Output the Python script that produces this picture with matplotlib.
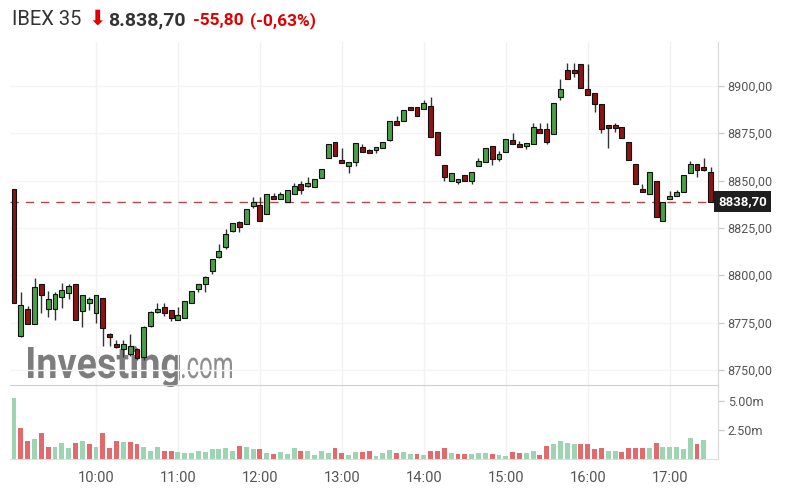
import matplotlib
matplotlib.use('Agg')
import matplotlib.pyplot as plt
import numpy as np
from matplotlib.font_manager import FontProperties
from matplotlib.patches import PathPatch
from matplotlib.textpath import TextPath
from matplotlib.transforms import Affine2D, IdentityTransform

plt.rcParams['font.family'] = ['Roboto', 'DejaVu Sans']

# 5-minute candles, 09:00 .. 17:30
opens = [8845.5, 8767.9, 8782.2, 8774.3, 8795.4, 8782.2, 8782.2, 8788.5, 8790.6, 8795.4,
         8781.1, 8785.4, 8780.1, 8788.0, 8769.0, 8763.7, 8761.1, 8758.4, 8761.1, 8756.8,
         8773.2, 8780.6, 8783.3, 8781.7, 8776.4, 8777.4, 8785.4, 8792.8, 8795.4, 8802.3,
         8809.7, 8815.0, 8823.4, 8828.2, 8827.1, 8836.6, 8837.1, 8832.4, 8841.9, 8840.3,
         8838.7, 8843.0, 8848.2, 8847.2, 8846.6, 8851.4, 8862.0, 8870.4, 8860.9, 8857.7,
         8859.9, 8867.8, 8866.2, 8866.2, 8867.2, 8871.5, 8881.5, 8881.5, 8888.0, 8888.9,
         8887.8, 8889.4, 8875.7, 8858.3, 8849.8, 8849.3, 8853.0, 8849.8, 8857.7, 8859.9,
         8868.3, 8861.4, 8865.1, 8871.5, 8869.4, 8868.3, 8869.4, 8877.3, 8877.3, 8874.6,
         8894.2, 8908.5, 8908.5, 8911.6, 8898.4, 8896.3, 8890.5, 8879.4, 8879.4, 8878.3,
         8870.4, 8858.8, 8845.6, 8843.0, 8849.8, 8828.7, 8840.3, 8841.9, 8844.0, 8854.0,
         8858.8, 8856.8, 8854.6]
highs = [8845.5, 8791.2, 8783.8, 8798.6, 8795.4, 8791.7, 8791.2, 8795.9, 8795.4, 8795.4,
         8789.6, 8788.5, 8789.6, 8788.0, 8769.5, 8765.8, 8765.8, 8769.0, 8761.6, 8773.2,
         8781.1, 8785.4, 8785.4, 8781.7, 8783.4, 8786.4, 8791.7, 8795.4, 8799.6, 8808.6,
         8816.5, 8824.5, 8827.6, 8828.7, 8835.0, 8841.4, 8841.4, 8843.0, 8843.5, 8844.0,
         8845.1, 8848.8, 8849.8, 8851.9, 8850.9, 8856.2, 8869.4, 8870.4, 8867.2, 8859.9,
         8869.9, 8869.4, 8866.7, 8867.8, 8870.4, 8881.5, 8884.2, 8887.3, 8889.0, 8888.9,
         8892.6, 8894.2, 8875.7, 8858.3, 8854.0, 8850.9, 8853.0, 8854.6, 8862.0, 8867.2,
         8868.3, 8865.7, 8872.0, 8875.2, 8871.0, 8869.4, 8880.5, 8880.5, 8880.5, 8891.0,
         8903.7, 8912.2, 8912.2, 8911.6, 8911.6, 8896.3, 8890.5, 8879.4, 8880.5, 8878.3,
         8870.4, 8858.8, 8848.2, 8854.6, 8849.8, 8838.7, 8844.5, 8845.1, 8853.0, 8860.4,
         8858.8, 8862.0, 8857.2]
lows = [8785.4, 8767.4, 8774.3, 8774.3, 8780.1, 8778.0, 8776.4, 8782.7, 8787.5, 8776.4,
        8772.7, 8781.7, 8774.8, 8762.7, 8762.7, 8761.6, 8756.8, 8757.4, 8755.3, 8755.3,
        8772.7, 8780.1, 8778.5, 8775.9, 8776.4, 8777.4, 8785.4, 8791.2, 8791.2, 8800.7,
        8809.2, 8813.9, 8822.9, 8822.9, 8827.1, 8835.6, 8828.7, 8832.4, 8840.3, 8840.3,
        8838.7, 8843.0, 8843.0, 8846.6, 8846.6, 8851.4, 8862.0, 8863.0, 8859.3, 8854.0,
        8857.7, 8865.1, 8864.6, 8864.6, 8867.2, 8870.9, 8879.4, 8881.5, 8887.3, 8884.2,
        8887.8, 8873.1, 8863.6, 8849.8, 8849.8, 8848.2, 8849.8, 8848.2, 8857.7, 8859.9,
        8858.3, 8860.4, 8865.1, 8869.4, 8867.8, 8866.7, 8869.4, 8875.2, 8869.4, 8874.6,
        8892.6, 8903.7, 8904.8, 8898.9, 8895.2, 8886.3, 8875.2, 8867.2, 8875.7, 8872.5,
        8860.9, 8848.2, 8844.0, 8843.0, 8830.8, 8828.7, 8840.3, 8841.9, 8844.0, 8854.0,
        8851.9, 8855.0, 8838.7]
closes = [8785.4, 8784.3, 8774.3, 8793.8, 8789.6, 8787.5, 8790.1, 8792.2, 8794.3, 8776.4,
          8789.6, 8787.5, 8789.6, 8772.2, 8767.4, 8762.1, 8763.7, 8762.7, 8756.3, 8772.7,
          8780.6, 8782.2, 8780.1, 8777.4, 8779.0, 8786.4, 8791.7, 8795.4, 8799.1, 8808.6,
          8812.8, 8821.8, 8827.6, 8825.5, 8835.0, 8838.7, 8828.7, 8843.0, 8840.3, 8843.0,
          8845.1, 8847.2, 8845.1, 8848.8, 8850.9, 8856.2, 8869.4, 8863.0, 8859.3, 8859.9,
          8869.9, 8865.1, 8864.6, 8867.8, 8870.4, 8881.5, 8879.4, 8887.3, 8887.3, 8884.2,
          8891.0, 8873.1, 8863.6, 8851.9, 8854.0, 8850.9, 8849.8, 8854.6, 8860.4, 8867.2,
          8861.4, 8864.1, 8872.0, 8869.4, 8867.8, 8869.4, 8878.3, 8875.2, 8870.4, 8891.0,
          8898.4, 8903.7, 8906.9, 8898.9, 8895.2, 8890.5, 8877.3, 8877.8, 8877.8, 8872.5,
          8860.9, 8848.2, 8844.0, 8854.6, 8830.8, 8838.7, 8841.9, 8844.0, 8853.0, 8858.8,
          8855.6, 8855.6, 8838.7]
# volume in millions
volumes = [5.23, 2.62, 1.52, 1.67, 2.19, 1.00, 1.00, 1.32, 0.91, 1.32,
           1.55, 1.23, 1.00, 2.19, 0.88, 1.55, 1.43, 1.43, 1.23, 1.00,
           0.68, 1.00, 0.68, 0.68, 0.57, 0.45, 0.45, 0.65, 0.57, 0.80,
           0.80, 0.88, 0.68, 1.12, 1.00, 0.80, 0.80, 0.45, 0.36, 0.57,
           0.36, 0.88, 0.68, 0.68, 0.33, 0.68, 0.45, 0.88, 0.45, 0.30,
           0.57, 0.57, 0.68, 0.22, 0.45, 0.78, 0.45, 0.54, 0.42, 0.39,
           0.33, 0.68, 0.68, 0.88, 0.45, 0.39, 0.39, 0.39, 0.45, 0.45,
           0.39, 0.33, 0.22, 0.57, 0.45, 0.45, 0.65, 0.33, 1.06, 1.26,
           1.55, 1.35, 1.26, 1.26, 1.26, 0.80, 0.88, 0.68, 0.68, 0.59,
           0.88, 0.88, 0.88, 0.88, 1.35, 1.03, 1.00, 1.00, 0.80, 1.76,
           1.26, 1.64, 0.00]
hour_labels = ['10:00', '11:00', '12:00', '13:00', '14:00', '15:00', '16:00', '17:00']
price_ticks = [8750, 8775, 8800, 8825, 8850, 8875, 8900]
vol_ticks = [2.5, 5.0]
last_price = 8838.70

o = np.array(opens)
h = np.array(highs)
l = np.array(lows)
c = np.array(closes)
idx = np.arange(len(o))
hour_pos = [12 * (i + 1) for i in range(len(hour_labels))]

W, H = 790, 501
fig = plt.figure(figsize=(W / 100, H / 100), dpi=100)
ax = fig.add_axes([10 / W, 1 - 385 / H, 708 / W, 343 / H])
vax = fig.add_axes([10 / W, 1 - 458.5 / H, 708 / W, 73.5 / H], sharex=ax)


def watermark(text, weight, x0, x1, base, height, color):
    # squeeze the glyphs into a box, the logo font is narrower than Roboto
    path = TextPath((0, 0), text, size=1,
                    prop=FontProperties(family='Roboto', weight=weight))
    ext = path.get_extents()
    cap = TextPath((0, 0), 'I', size=1,
                   prop=FontProperties(family='Roboto', weight=weight)).get_extents().y1
    sx = (x1 - x0) / ext.width
    sy = height / cap
    tr = Affine2D().translate(-ext.x0, 0).scale(sx, sy).translate(x0, H - base)
    fig.patches.append(PathPatch(tr.transform_path(path), transform=IdentityTransform(),
                                 fc=color, ec='none', zorder=0))


watermark('Investing', 'bold', 28, 180, 378, 31, '#7d7d7d')
watermark('.com', 'normal', 182, 232, 378, 27, '#8e8e8e')

up = c >= o
green, red = '#4a9e48', '#8c1414'
ax.vlines(idx, l, h, color='#333333', lw=1, zorder=2)
ax.bar(idx, np.maximum(np.abs(c - o), 1.6), bottom=np.minimum(o, c), width=0.72,
       color=np.where(up, green, red), edgecolor='#111111', linewidth=0.8, zorder=3)

ax.axhline(last_price, color='#b04848', lw=1, ls=(0, (6, 5)), zorder=1)
ax.text(1.0, last_price, f'{last_price:.2f}'.replace('.', ','),
        transform=ax.get_yaxis_transform(), ha='left', va='center',
        color='white', fontsize=9.5, fontweight='bold', clip_on=False,
        bbox=dict(boxstyle='square,pad=0.3', fc='#1e1e1e', ec='none'))

ax.set_xlim(-0.59, 103.07)
ax.set_ylim(8742.0, 8923.2)
ax.yaxis.tick_right()
ax.set_yticks(price_ticks)
ax.set_yticklabels([f'{v:.2f}'.replace('.', ',') for v in price_ticks])
ax.tick_params(axis='y', length=4, width=1, color='#cccccc', pad=3,
               labelsize=9, labelcolor='#555555')
ax.tick_params(axis='x', bottom=False, labelbottom=False)
for s in ['left', 'top']:
    ax.spines[s].set_visible(False)
ax.spines['right'].set_color('#d9d9d9')
ax.spines['bottom'].set_color('#cfcfcf')
for v in price_ticks:
    ax.axhline(v, color='#f4f4f4', lw=1, zorder=0)
for p in hour_pos:
    ax.axvline(p, color='#f2f2f2', lw=1, zorder=0)
ax.set_zorder(2)
ax.patch.set_alpha(0)

# volume, coloured by close against the previous close
prev = np.concatenate([[-np.inf], c[:-1]])
vol_up = c >= prev
vax.bar(idx, volumes, width=0.72, color=np.where(vol_up, '#9fd4b2', '#e16a6c'),
        linewidth=0, zorder=2)
vax.set_ylim(0, 6.39)
vax.yaxis.tick_right()
vax.set_yticks(vol_ticks)
vax.set_yticklabels([f'{v:.2f}m' for v in vol_ticks])
vax.tick_params(axis='y', length=4, width=1, color='#cccccc', pad=3,
                labelsize=9, labelcolor='#555555')
vax.set_xticks(hour_pos)
vax.set_xticklabels(hour_labels)
vax.tick_params(axis='x', length=0, pad=9, labelsize=10.5, labelcolor='#555555')
for s in ['left', 'top']:
    vax.spines[s].set_visible(False)
vax.spines['right'].set_color('#d9d9d9')
vax.spines['bottom'].set_color('#dddddd')
for p in hour_pos:
    vax.axvline(p, color='#f2f2f2', lw=1, zorder=0)

# header
base = 1 - 25 / H
fig.text(12 / W, base, 'IBEX 35', fontsize=14.5, color='#333333', va='baseline')
fig.text(88 / W, base + 1 / H, '\u2b07', fontsize=15, color='#e00000', va='baseline',
         family='DejaVu Sans')
fig.text(108 / W, base, '8.838,70', fontsize=14, fontweight='bold',
         color='#333333', va='baseline')
fig.text(193 / W, base, '-55,80', fontsize=12.5, fontweight='bold',
         color='#e00000', va='baseline')
fig.text(250 / W, base, '(-0,63%)', fontsize=12.5, fontweight='bold',
         color='#e00000', va='baseline')

fig.savefig('out.png', dpi=100)
